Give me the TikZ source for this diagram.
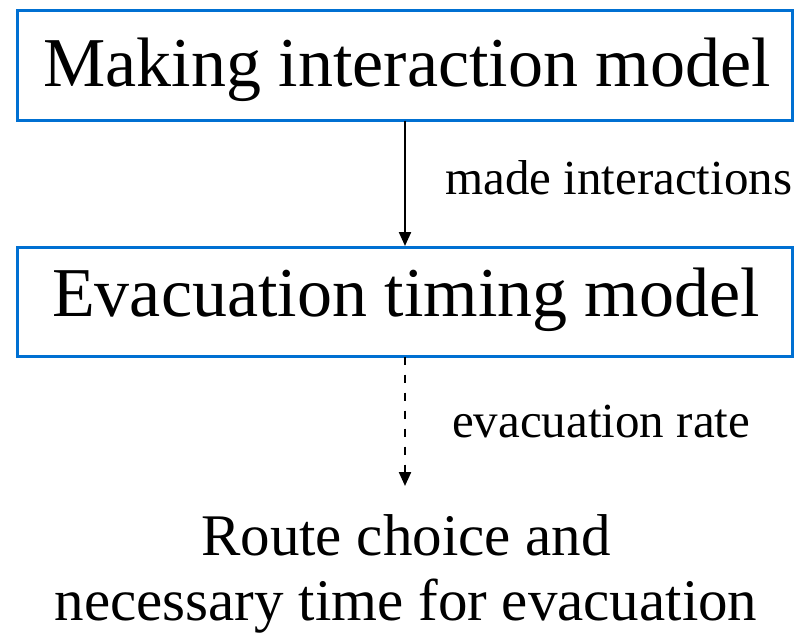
\documentclass[tikz,border=0pt]{standalone}
\usepackage{fontspec}
\setmainfont{Liberation Serif}
\usetikzlibrary{arrows.meta}
\definecolor{boxblue}{RGB}{0,112,210}
\begin{document}
\begin{tikzpicture}[x=1pt,y=-1pt,
  box/.style={draw=boxblue,line width=3pt},
  big/.style={anchor=base,inner sep=0pt,font=\fontsize{70}{76}\selectfont},
  lab/.style={anchor=base west,inner sep=0pt,font=\fontsize{49}{54}\selectfont},
  conn/.style={line width=2.2pt,-{Triangle[width=12pt,length=14pt]}}]
\useasboundingbox (0,0) rectangle (805,640);
\draw[box] (17.5,10.5) rectangle (792.5,120.5);
\draw[box] (17.5,247.5) rectangle (792.5,356.5);
\coordinate (b1s) at (405,120.5);
\coordinate (b1e) at (405,246);
\coordinate (b2s) at (405,356.5);
\coordinate (b2e) at (405,486);
\node[big] (t1) at (407,86) {Making interaction model};
\node[big] (t2) at (406,316) {Evacuation timing model};
\node[big,font=\fontsize{59}{64}\selectfont] (t3) at (406,555) {Route choice and};
\node[big,font=\fontsize{59}{64}\selectfont] (t4) at (406,620) {necessary time for evacuation};
\node[lab] (l1) at (445,194) {made interactions};
\node[lab] (l2) at (452,437) {evacuation rate};
\draw[conn] (b1s) -- (b1e);
\draw[conn,dash pattern=on 8pt off 10pt] (b2s) -- (b2e);
\end{tikzpicture}
\end{document}
